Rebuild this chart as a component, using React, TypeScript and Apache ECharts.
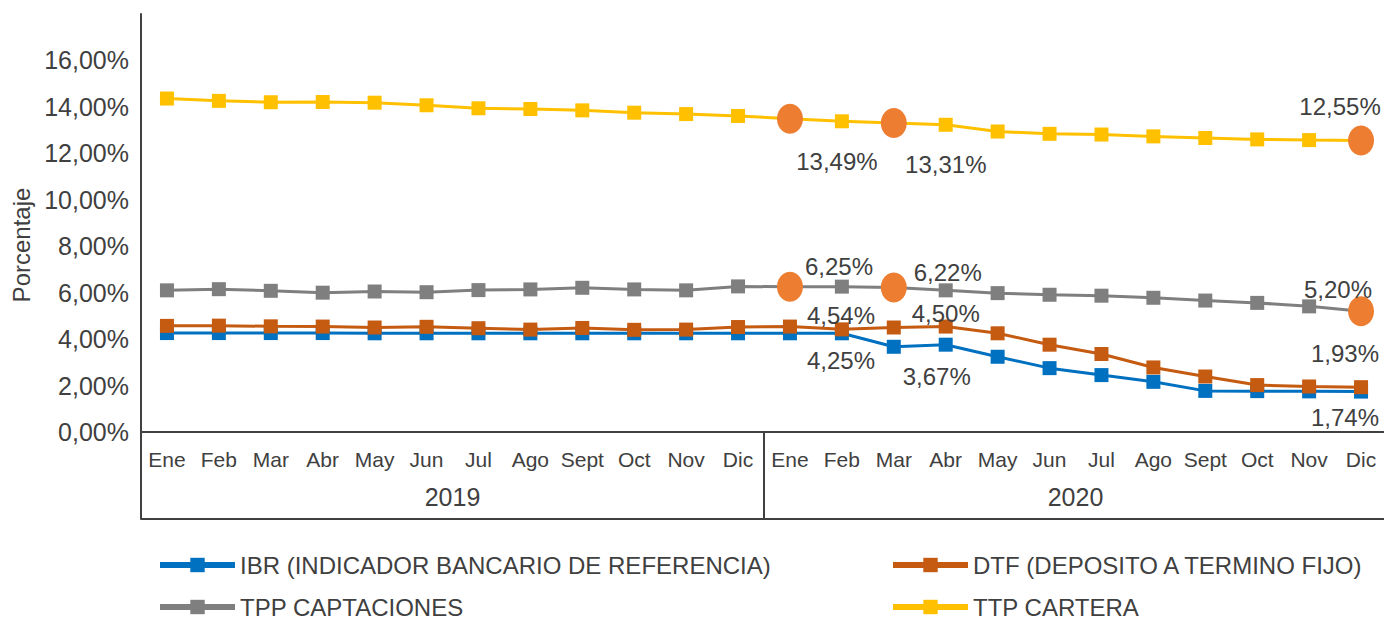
import React, { useEffect, useRef } from "react";
import * as echarts from "echarts";

const months = ["Ene", "Feb", "Mar", "Abr", "May", "Jun", "Jul", "Ago", "Sept", "Oct", "Nov", "Dic"];
const years = ["2019", "2020"];
const categories = [...months, ...months];

const ibr = [4.26, 4.26, 4.26, 4.26, 4.25, 4.25, 4.25, 4.25, 4.25, 4.25, 4.25, 4.25,
  4.25, 4.25, 3.67, 3.76, 3.24, 2.75, 2.45, 2.16, 1.77, 1.76, 1.75, 1.74];
const dtf = [4.57, 4.58, 4.55, 4.54, 4.50, 4.53, 4.47, 4.41, 4.48, 4.40, 4.41, 4.52,
  4.54, 4.42, 4.50, 4.54, 4.25, 3.76, 3.36, 2.78, 2.39, 2.02, 1.96, 1.93];
const tpp = [6.10, 6.15, 6.08, 6.00, 6.05, 6.02, 6.11, 6.14, 6.21, 6.14, 6.10, 6.27,
  6.25, 6.26, 6.22, 6.10, 5.98, 5.91, 5.87, 5.78, 5.66, 5.56, 5.41, 5.20];
const ttp = [14.36, 14.26, 14.20, 14.21, 14.18, 14.07, 13.94, 13.91, 13.85, 13.75, 13.69, 13.61,
  13.49, 13.38, 13.31, 13.23, 12.94, 12.84, 12.81, 12.73, 12.66, 12.60, 12.57, 12.55];

const seriesNames = [
  "IBR (INDICADOR BANCARIO DE REFERENCIA)",
  "DTF (DEPOSITO A TERMINO FIJO)",
  "TPP CAPTACIONES",
  "TTP CARTERA",
];
const seriesColors = ["#0070C0", "#C55A11", "#7F7F7F", "#FFC000"];
const highlightIdx = [12, 14, 23];
const circled = [false, false, true, true];
// label offsets (dx, dy) for labelled points per series: [Ene 2020, Mar 2020, Dic 2020]
const labelOffsets = [
  [[51, 27], [43, 30], [-16, 26]],
  [[51, -11], [52, -14], [-16, -34]],
  [[49, -20], [54, -15], [-23, -22]],
  [[47, 43], [52, 42], [-21, -34]],
];
// legend placement: [left, top] per series
const legendPos = [[157, 553], [890, 553], [157, 595], [890, 595]];

const TEXT = "#404040";
const FONT = "Liberation Sans, Arial, Helvetica, sans-serif";
const fmt = (v: number) => v.toFixed(2).replace(".", ",") + "%";

export default function App() {
  const ref = useRef<HTMLDivElement>(null);
  useEffect(() => {
    document.body.style.margin = "0";
    if (!ref.current) return;
    const chart = echarts.init(ref.current, undefined, { renderer: "svg" });
    const allData = [ibr, dtf, tpp, ttp];
    const series = allData.map((arr, si) => ({
      name: seriesNames[si],
      type: "line",
      xAxisIndex: 0,
      yAxisIndex: 0,
      symbol: "rect",
      symbolSize: 14,
      z: 2 + si,
      lineStyle: { width: 3, color: seriesColors[si] },
      itemStyle: { color: seriesColors[si] },
      data: arr.map((v, i) => {
        const h = highlightIdx.indexOf(i);
        if (h < 0) return v;
        const item: any = {
          value: v,
          label: {
            show: true,
            position: "inside",
            offset: labelOffsets[si][h],
            formatter: (p: any) => fmt(p.value),
            fontSize: 24,
            color: TEXT,
            fontFamily: FONT,
          },
        };
        if (circled[si]) {
          item.symbol = "circle";
          item.symbolSize = [26, 30];
          item.itemStyle = { color: "#ED7D31" };
        }
        return item;
      }),
    }));
    const legends = seriesNames.map((n, i) => ({
      data: [n],
      orient: "horizontal",
      left: legendPos[i][0],
      top: legendPos[i][1],
      padding: 0,
      itemWidth: 75,
      itemHeight: 18,
      lineStyle: { width: 6 },
      textStyle: { fontSize: 24, lineHeight: 24, color: TEXT, fontFamily: FONT, padding: [0, 0, 0, 0] },
    }));
    chart.setOption({
      animation: false,
      grid: {
        left: 141, width: 1246, top: 14, height: 418,
        containLabel: false, outerBoundsMode: "none",
      },
      xAxis: [
        {
          type: "category",
          data: categories,
          boundaryGap: true,
          axisLine: { show: true, lineStyle: { color: TEXT, width: 2 } },
          axisTick: { show: false },
          axisLabel: { interval: 0, margin: 17, fontSize: 21, color: TEXT, fontFamily: FONT },
        },
        {
          type: "category",
          data: years,
          position: "bottom",
          offset: 87,
          boundaryGap: true,
          axisLine: { show: true, lineStyle: { color: TEXT, width: 2 } },
          axisTick: { show: true, inside: true, length: 87, lineStyle: { color: TEXT, width: 2 } },
          axisLabel: { inside: true, margin: 10, fontSize: 25, color: TEXT, fontFamily: FONT },
        },
      ],
      yAxis: {
        type: "value",
        min: 0,
        max: 18,
        interval: 2,
        name: "Porcentaje",
        nameLocation: "middle",
        nameRotate: 90,
        nameGap: 108,
        nameTextStyle: { fontSize: 24, color: TEXT, fontFamily: FONT, padding: [0, 44, 0, 0] },
        axisLine: { show: true, lineStyle: { color: TEXT, width: 2 } },
        axisTick: { show: false },
        splitLine: { show: false },
        axisLabel: {
          margin: 12,
          fontSize: 25,
          color: TEXT,
          fontFamily: FONT,
          formatter: (v: number) => (v >= 18 ? "" : fmt(v)),
        },
      },
      legend: legends,
      series,
    });
    return () => chart.dispose();
  }, []);
  return <div ref={ref} style={{ width: 1384, height: 620 }} />;
}
